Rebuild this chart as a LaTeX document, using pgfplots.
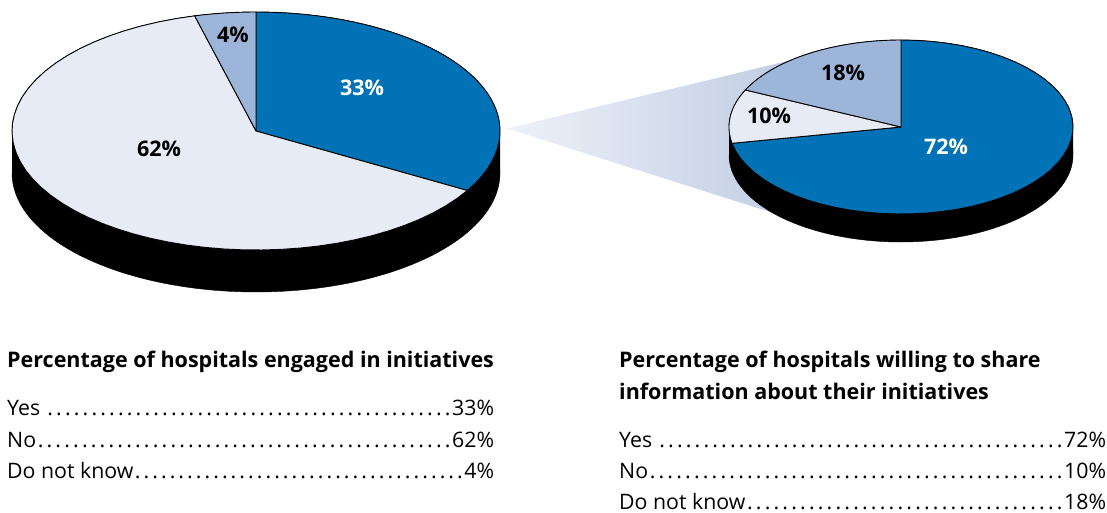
\documentclass[border=0pt]{standalone}
\usepackage{fontspec}
\setmainfont{Open Sans}
\usepackage{pgfplots}
\pgfplotsset{compat=1.18}

\definecolor{pieblue}{HTML}{0072B5}
\definecolor{piepale}{HTML}{E6EBF5}
\definecolor{piemid}{HTML}{9DB5D9}
\definecolor{fanlight}{HTML}{EEF1F8}
\definecolor{fandark}{HTML}{C0CCE3}

% cx cy rx ry depth: black rim plus silhouette of the disc
\newcommand{\rim}[5]{%
  \addplot[fill=black,draw=black,domain=180:540,samples=181,variable=\t]
    ({#1+#3*cos(\t)},{#2-#4*sin(\t)+#5*(\t<=360)});
}
% cx cy rx ry total before value colour; steps 0 and 52 sit on the centre
\newcommand{\slice}[8]{%
  \addplot[fill=#8,draw=black,line width=0.9pt,line join=round,variable=\s,
    domain=0:52,samples=53]
    ({#1+(\s>0)*(\s<52)*#3*cos(90-360*(#6+#7*(\s-1)/50)/#5)},
     {#2-(\s>0)*(\s<52)*#4*sin(90-360*(#6+#7*(\s-1)/50)/#5)});
}
\newcommand{\row}[3]{%
  \node[anchor=base west,inner sep=0pt,font=\fontsize{21.3}{24}\selectfont] at (axis cs:#1,#2)
    {\makebox[487pt][s]{#3}};
}
\newcommand{\dotted}{\xleaders\hbox to 8.7pt{\hss.\hss}\hfill}
\newcommand{\head}[3]{%
  \node[anchor=base west,inner sep=0pt,font=\fontsize{21.5}{24}\selectfont\bfseries] at (axis cs:#1,#2) {#3};
}
\newcommand{\lab}[4]{%
  \node[text=#4,inner sep=0pt,font=\fontsize{21.5}{24}\selectfont\bfseries] at (axis cs:#1,#2) {#3};
}

\begin{document}
\begin{tikzpicture}
\useasboundingbox (0,0) rectangle (1107pt,512pt);
\begin{axis}[
    scale only axis,
    width=1107pt,
    height=512pt,
    xmin=0, xmax=1107,
    ymin=0, ymax=512,
    y dir=reverse,
    hide axis,
    clip=false,
]
% left pie: engaged in initiatives (33, 62, 4)
\rim{256}{131}{244}{119}{42}
\slice{256}{131}{244}{119}{99}{0}{33}{pieblue}
\slice{256}{131}{244}{119}{99}{33}{62}{piepale}
\slice{256}{131}{244}{119}{99}{95}{4}{piemid}

% fan between the two pies
\addplot[draw=none,left color=fanlight,right color=fandark] coordinates {
    (507,128.5) (800,58) (800,215) (770,212) (507,128.5)};

% right pie: willing to share (72, 10, 18)
\rim{901}{127}{172}{87}{28}
\slice{901}{127}{172}{87}{100}{0}{72}{pieblue}
\slice{901}{127}{172}{87}{100}{72}{10}{piepale}
\slice{901}{127}{172}{87}{100}{82}{18}{piemid}

\lab{362}{88}{33\%}{white}
\lab{159}{149}{62\%}{black}
\lab{233}{35}{4\%}{black}
\lab{946}{147}{72\%}{white}
\lab{769}{116}{10\%}{black}
\lab{843}{73}{18\%}{black}

\head{7}{367}{Percentage of hospitals engaged in initiatives}
\row{7}{415}{Yes \dotted 33\%}
\row{7}{447}{No\dotted 62\%}
\row{7}{478}{Do not know\dotted 4\%}

\head{619}{367}{Percentage of hospitals willing to share}
\head{619}{399}{information about their initiatives}
\row{619}{447}{Yes \dotted 72\%}
\row{619}{478}{No\dotted 10\%}
\row{619}{509}{Do not know\dotted 18\%}
\end{axis}
\end{tikzpicture}
\end{document}
